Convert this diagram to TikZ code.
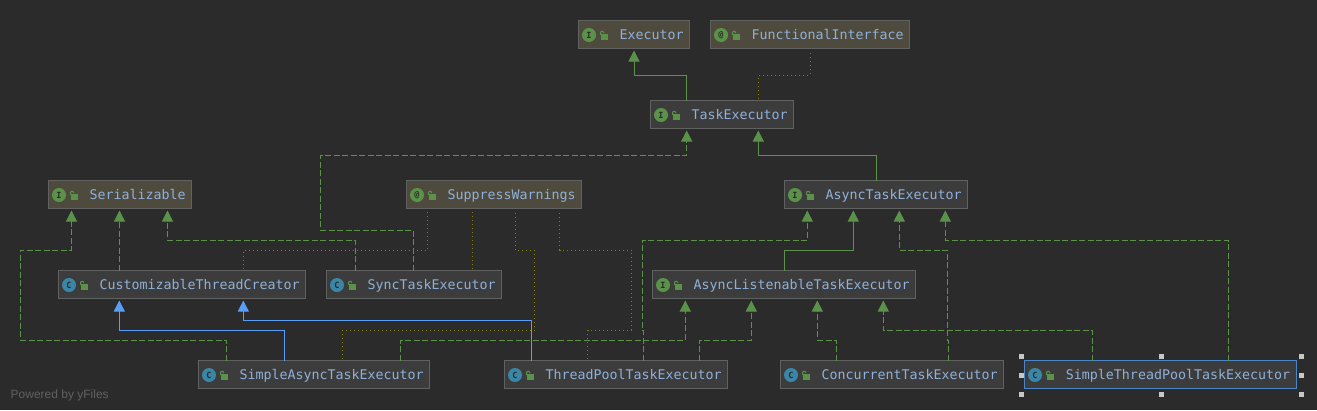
\documentclass[tikz,border=0pt]{standalone}
\usepackage{fontspec}
\setmainfont{Liberation Sans}
\setmonofont{DejaVu Sans Mono}
\usetikzlibrary{arrows.meta}
\definecolor{canvasdark}{HTML}{2B2B2B}
\definecolor{boxgrey}{HTML}{3C3C3C}
\definecolor{boxolive}{HTML}{4E4A3E}
\definecolor{boxedge}{HTML}{606262}
\definecolor{labelblue}{HTML}{8FB0DA}
\definecolor{edgegreen}{HTML}{5B9249}
\definecolor{edgeolive}{HTML}{7F7F0A}
\definecolor{edgeblue}{HTML}{589DF6}
\definecolor{classteal}{HTML}{3A86A6}
\definecolor{selectblue}{HTML}{4A84C9}
\tikzset{
  classbox/.style={draw=boxedge, line width=1.3pt, fill=boxgrey, anchor=north west, outer sep=0pt, inner xsep=6pt, inner ysep=0pt,
    minimum height=28pt, text height=10pt, text depth=0.4pt, text=labelblue,
    font=\ttfamily\fontsize{13.29}{16}\selectfont, execute at begin node={\hspace*{35pt}}},
  extbox/.style={classbox, fill=boxolive},
  selectbox/.style={classbox, draw=selectblue},
  extends/.style={-{Triangle[length=11pt,width=11pt]}, edgegreen, line width=1pt, shorten >=2pt},
  implements/.style={extends, dash pattern=on 6pt off 2.5pt},
  usesnote/.style={edgeolive, line width=1pt, dash pattern=on 1pt off 3pt, shorten <=2pt, shorten >=3pt},
  extendsclass/.style={extends, edgeblue},
  badge/.style={circle, inner sep=0pt, minimum size=14pt, text=canvasdark, font=\ttfamily\bfseries\fontsize{8.5}{9}\selectfont},
  lockbody/.style={fill=edgegreen, inner sep=0pt, minimum width=7.5pt, minimum height=5.5pt},
  lockarc/.style={draw=edgegreen, line width=1pt, rounded corners=1pt},
  handle/.style={fill=black!22, inner sep=0pt, minimum size=5pt}
}

\begin{document}
\begin{tikzpicture}[x=1pt, y=-1pt]
  \fill[canvasdark] (0,0) rectangle (1317,410);
  \useasboundingbox (0,0) rectangle (1317,410);
  \node[extbox] (executor) at (578.5,20.5) {Executor};
  \node[extbox] (funcif) at (710.5,20.5) {FunctionalInterface};
  \node[classbox] (taskexec) at (650.5,100.5) {TaskExecutor};
  \node[extbox] (serial) at (48.5,180.5) {Serializable};
  \node[extbox] (suppress) at (406.5,180.5) {SuppressWarnings};
  \node[classbox] (asynctask) at (784.5,180.5) {AsyncTaskExecutor};
  \node[classbox] (creator) at (58.5,270.5) {CustomizableThreadCreator};
  \node[classbox] (synctask) at (326.5,270.5) {SyncTaskExecutor};
  \node[classbox] (listenable) at (652.5,270.5) {AsyncListenableTaskExecutor};
  \node[classbox] (simpleasync) at (198.5,360.5) {SimpleAsyncTaskExecutor};
  \node[classbox] (threadpool) at (504.5,360.5) {ThreadPoolTaskExecutor};
  \node[classbox] (concurrent) at (780.5,360.5) {ConcurrentTaskExecutor};
  \node[selectbox, minimum width=272pt] (simplepool) at (1024.5,360.5) {SimpleThreadPoolTaskExecutor};
  \node[anchor=base west, inner sep=0pt, text=black!62, font=\fontsize{12}{14}\selectfont] (poweredby) at (10.5,398) {Powered by yFiles};
  \foreach \nd/\ltr/\col in {executor/I/edgegreen, funcif/@/edgegreen, taskexec/I/edgegreen, serial/I/edgegreen,
      suppress/@/edgegreen, asynctask/I/edgegreen, listenable/I/edgegreen, creator/C/classteal, synctask/C/classteal,
      simpleasync/C/classteal, threadpool/C/classteal, concurrent/C/classteal, simplepool/C/classteal} {
    \node[badge, fill=\col] (\nd-badge) at ([xshift=10.5,yshift=-0.5]\nd.west) {\ltr};
    \node[lockbody] (\nd-lock) at ([xshift=26,yshift=-2.3]\nd.west) {};
    \draw[lockarc] ([xshift=22,yshift=-0.3]\nd.west) -- ++(0,-3.5) -- ++(3.2,0) -- ++(0,1.8);
  }
  % solid inheritance
  \draw[extends] ([xshift=36.2]taskexec.north west) -- ++(0,-25.5) -| ([xshift=55.5]executor.south west);
  \draw[extends] ([xshift=92.2]asynctask.north west) -- ++(0,-25.5) -| ([xshift=107.8]taskexec.south west);
  \draw[extends] ([xshift=131.8]listenable.north west) -- ++(0,-20.5) -| ([xshift=68.8]asynctask.south west);
  \draw[extendsclass] ([xshift=86.2]simpleasync.north west) -- ++(0,-30.5) -| ([xshift=60.8]creator.south west);
  \draw[extendsclass] ([xshift=27.2]threadpool.north west) -- ++(0,-40.2) -| ([xshift=184.8]creator.south west);
  % dashed, implemented interfaces
  \draw[implements] ([xshift=86.5]synctask.north west) -- ++(0,-40.5) -- ++(-92.5,0) -- ++(0,-75) -| ([xshift=36.2]taskexec.south west);
  \draw[implements] ([xshift=61]creator.north west) -- ([xshift=71]serial.south west);
  \draw[implements] ([xshift=28.2]simpleasync.north west) -- ++(0,-20.5) -- ++(-206.2,0) -- ++(0,-90) -| ([xshift=23]serial.south west);
  \draw[implements] ([xshift=28.8]synctask.north west) -- ++(0,-30.5) -| ([xshift=119]serial.south west);
  \draw[implements] ([xshift=138.8]threadpool.north west) -- ++(0,-30.5) -- ++(-1,0) -- ++(0,-90) -| ([xshift=22.8]asynctask.south west);
  \draw[implements] ([xshift=167.8]concurrent.north west) -- ++(0,-20.5) -- ++(-1,0) -- ++(0,-90) -| ([xshift=114.8]asynctask.south west);
  \draw[implements] ([xshift=203.8]simplepool.north west) -- ++(0,-120.5) -| ([xshift=160.8]asynctask.south west);
  \draw[implements] ([xshift=201.8]simpleasync.north west) -- ++(0,-20.5) -| ([xshift=32.8]listenable.south west);
  \draw[implements] ([xshift=194.8]threadpool.north west) -- ++(0,-20.5) -| ([xshift=98.8]listenable.south west);
  \draw[implements] ([xshift=56.2]concurrent.north west) -- ++(0,-20.5) -| ([xshift=164.8]listenable.south west);
  \draw[implements] ([xshift=67.8]simplepool.north west) -- ++(0,-30.5) -| ([xshift=230.8]listenable.south west);
  % dotted, annotations
  \draw[usesnote] ([xshift=108.2]taskexec.north west) -- ++(0,-25.5) -| ([xshift=99.5]funcif.south west);
  \draw[usesnote] ([xshift=184.8]creator.north west) -- ++(0,-20.5) -| ([xshift=20.8]suppress.south west);
  \draw[usesnote] ([xshift=145.5]synctask.north west) -- ([xshift=65.5]suppress.south west);
  \draw[usesnote] ([xshift=83.2]threadpool.north west) -- ++(0,-30.5) -- ++(43.8,0) -- ++(0,-80) -| ([xshift=153]suppress.south west);
  \draw[usesnote] ([xshift=143.8]simpleasync.north west) -- ++(0,-30.5) -- ++(192,0) -- ++(0,-80) -| ([xshift=108.8]suppress.south west);
  % selection handles
  \foreach \hx/\hy [count=\i] in {1021/356, 1161/356, 1301/356, 1021/375, 1301/375, 1021/394, 1161/394, 1301/394}
    \node[handle] (handle\i) at (\hx,\hy) {};
\end{tikzpicture}
\end{document}
